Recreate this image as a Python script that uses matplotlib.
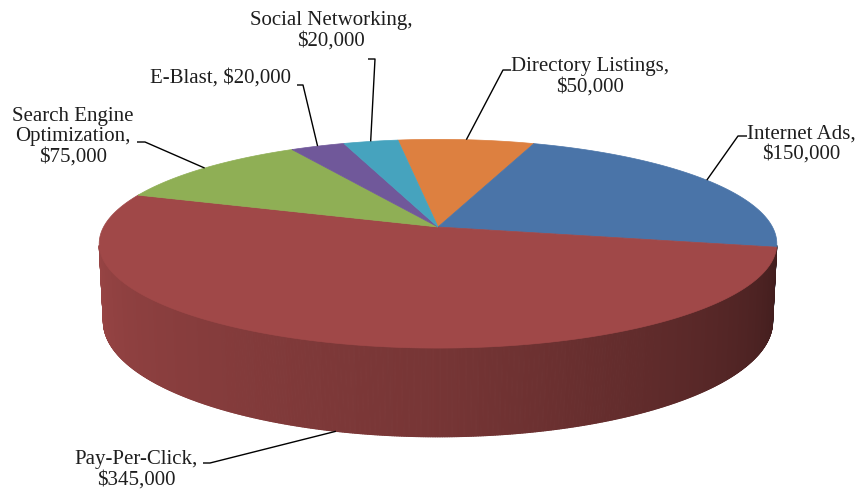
import numpy as np
import matplotlib.pyplot as plt
from matplotlib.patches import Polygon
from matplotlib.collections import PolyCollection
from matplotlib.colors import to_rgb

# ----------------------------
# Data
# ----------------------------
names = ["Directory Listings", "Internet Ads", "Pay-Per-Click",
         "Search Engine\nOptimization", "E-Blast", "Social Networking"]
values = [50000, 150000, 345000, 75000, 20000, 20000]
one_line = [False, False, False, False, True, False]

colors = ["#DD8040", "#4A74A8", "#A04848", "#8FAF55", "#70589A", "#46A3BE"]

# label layout (pixel coords): text centre, elbow of leader, tick length
text_pos = [(590, 77), (801, 144), (136, 470), (73, 137), (221, 78), (331, 31)]
elbow_pos = [(503, 70), (738, 136), (210, 463), (145, 142), (303, 85), (375, 59)]
tick_len = [8, 9, -7, -8, -6, -7]

# ----------------------------
# Fake 3D view of the pie (perspective camera)
# ----------------------------
CX, CY = 438, 227        # where the slices meet, in pixels
SCALE = 1990
DIST = 5.95
ELEV = np.radians(17.7)
DEPTH = 0.242
START = -8.0             # first slice starts a bit left of 12 o'clock


def project(phi_deg, z):
    phi = np.radians(phi_deg)
    den = DIST + np.cos(phi) * np.cos(ELEV) - z * np.sin(ELEV)
    X = np.sin(phi) / den
    Y = (np.cos(phi) * np.sin(ELEV) + z * np.cos(ELEV)) / den
    return CX + SCALE * X, CY - SCALE * Y


# side wall only visible where its normal faces the camera
vis_cos = -1.0 / (DIST * np.cos(ELEV))
vis_lo = np.degrees(np.arccos(vis_cos))
vis_hi = 360 - vis_lo


def shade(phi):
    return np.interp(phi, [90, 180, 270], [0.36, 0.74, 0.97])


fig = plt.figure(figsize=(8.64, 4.93), dpi=100)
ax = fig.add_axes([0, 0, 1, 1])
ax.set_xlim(0, 864)
ax.set_ylim(493, 0)
ax.axis("off")

total = sum(values)
angles = np.cumsum([0] + [v / total * 360 for v in values]) + START

# side walls first
for i, c in enumerate(colors):
    a0, a1 = max(angles[i], vis_lo), min(angles[i + 1], vis_hi)
    if a1 <= a0:
        continue
    steps = np.linspace(a0, a1, max(int((a1 - a0) * 4), 2))
    quads, fcs = [], []
    base = np.array(to_rgb(c))
    for p, q in zip(steps[:-1], steps[1:]):
        x0, y0 = project(p, 0)
        x1, y1 = project(q, 0)
        x2, y2 = project(q, -DEPTH)
        x3, y3 = project(p, -DEPTH)
        quads.append([(x0, y0), (x1, y1), (x2, y2), (x3, y3)])
        fcs.append(np.clip(base * shade((p + q) / 2), 0, 1))
    ax.add_collection(PolyCollection(quads, facecolors=fcs, edgecolors=fcs,
                                     linewidths=0.8))

# top faces
for i, c in enumerate(colors):
    arc = np.linspace(angles[i], angles[i + 1], 200)
    xs, ys = project(arc, 0)
    pts = [(CX, CY)] + list(zip(xs, ys))
    ax.add_patch(Polygon(pts, closed=True, facecolor=c, edgecolor=c, lw=0.5))

# labels with leader lines
for i, name in enumerate(names):
    sep = ", " if one_line[i] else ",\n"
    txt = f"{name}{sep}\\${values[i]:,}"
    ax.text(text_pos[i][0], text_pos[i][1], txt, ha="center", va="center",
            fontsize=15, family=["Liberation Serif", "DejaVu Serif"],
            color="#1e1e1e", linespacing=1.1)
    mid = (angles[i] + angles[i + 1]) / 2
    midc = np.cos(np.radians(mid))
    z = -DEPTH if (midc < vis_cos) else 0
    px, py = project(mid, z)
    ex, ey = elbow_pos[i]
    ax.plot([ex + tick_len[i], ex, px], [ey, ey, py], color="black", lw=1.0,
            solid_capstyle="butt")

fig.savefig("out.png", dpi=100)
